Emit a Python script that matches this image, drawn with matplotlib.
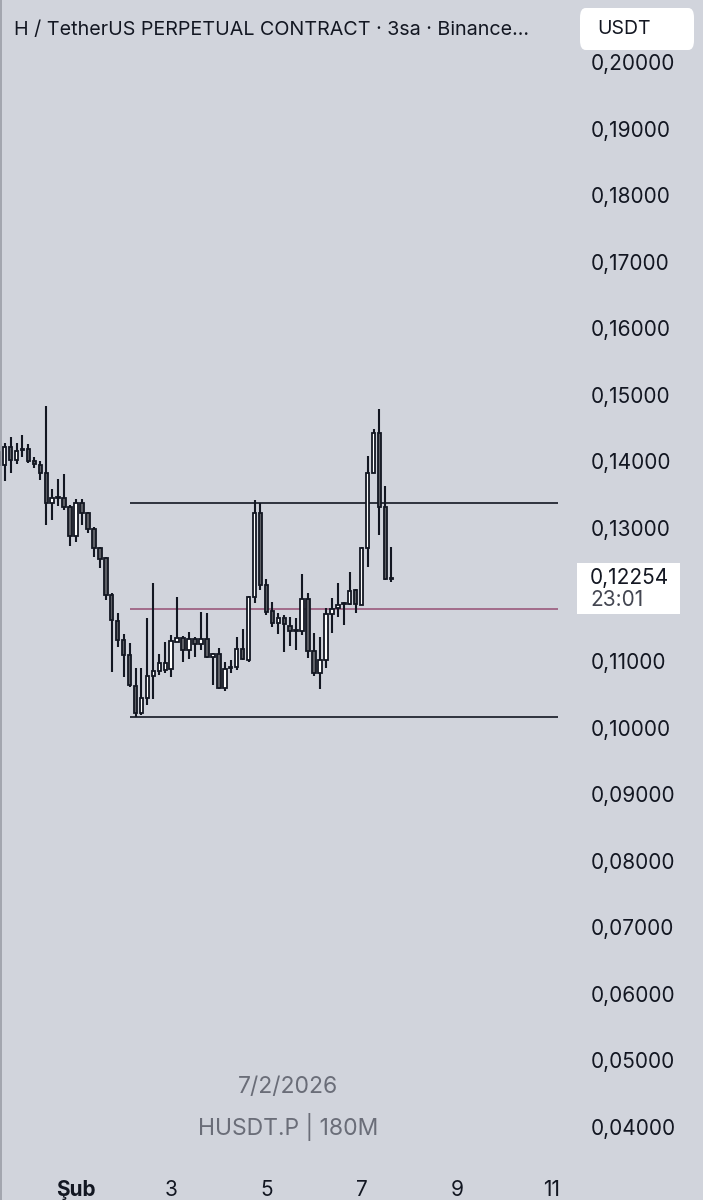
import matplotlib
matplotlib.use("Agg")
import matplotlib.pyplot as plt
import matplotlib.dates as mdates
from matplotlib.patches import Rectangle, FancyBboxPatch
from matplotlib.transforms import blended_transform_factory
from matplotlib.lines import Line2D
import numpy as np
import pandas as pd

# HUSDT.P, 3h candles
times = pd.date_range("2026-01-30 09:00", periods=67, freq="3h")
opens = [0.14141, 0.13946, 0.14216, 0.14021, 0.14186, 0.14186, 0.14006, 0.13946, 0.13825, 0.13375,
         0.13450, 0.13450, 0.13315, 0.12879, 0.13375, 0.13225, 0.12984, 0.12699, 0.12548, 0.11993,
         0.11602, 0.11317, 0.11091, 0.10625, 0.10220, 0.10445, 0.10776, 0.10851, 0.10866, 0.10881,
         0.11287, 0.11347, 0.11166, 0.11332, 0.11256, 0.11332, 0.11061, 0.11106, 0.10595, 0.10911,
         0.10911, 0.11181, 0.11016, 0.11963, 0.13225, 0.12143, 0.11753, 0.11572, 0.11647, 0.11527,
         0.11467, 0.11452, 0.11933, 0.11151, 0.10821, 0.11016, 0.11708, 0.11798, 0.11858, 0.11858,
         0.12068, 0.11843, 0.12699, 0.13825, 0.14426, 0.13315, 0.12233]
highs = [0.14276, 0.14276, 0.14366, 0.14276, 0.14396, 0.14261, 0.14066, 0.14006, 0.14832, 0.13585,
         0.13735, 0.13810, 0.13345, 0.13435, 0.13435, 0.13240, 0.13014, 0.12714, 0.12564, 0.12023,
         0.11723, 0.11407, 0.11271, 0.10896, 0.10896, 0.11647, 0.12173, 0.11106, 0.11287, 0.11392,
         0.11963, 0.11377, 0.11437, 0.11362, 0.11738, 0.11723, 0.11121, 0.11196, 0.10986, 0.11016,
         0.11362, 0.11482, 0.11978, 0.13420, 0.13375, 0.12233, 0.11888, 0.11723, 0.11692, 0.11662,
         0.11647, 0.12308, 0.12023, 0.11422, 0.11362, 0.11798, 0.11948, 0.12173, 0.11888, 0.12338,
         0.12083, 0.12714, 0.14081, 0.14486, 0.14787, 0.13630, 0.12714]
lows = [0.13901, 0.13705, 0.13825, 0.13961, 0.14066, 0.13976, 0.13901, 0.13720, 0.13044, 0.13119,
        0.13330, 0.13270, 0.12729, 0.12789, 0.13044, 0.12924, 0.12564, 0.12398, 0.11918, 0.10836,
        0.11211, 0.10761, 0.10610, 0.10159, 0.10190, 0.10340, 0.10430, 0.10791, 0.10821, 0.10761,
        0.11287, 0.10986, 0.11031, 0.11061, 0.11166, 0.11046, 0.10640, 0.10580, 0.10550, 0.10821,
        0.10866, 0.11016, 0.10986, 0.11873, 0.12068, 0.11692, 0.11512, 0.11407, 0.11136, 0.11226,
        0.11166, 0.11392, 0.11046, 0.10776, 0.10580, 0.10896, 0.11422, 0.11662, 0.11542, 0.11843,
        0.11723, 0.11843, 0.12413, 0.13825, 0.12894, 0.12218, 0.12188]
closes = [0.13946, 0.14216, 0.14021, 0.14156, 0.14171, 0.14006, 0.13961, 0.13825, 0.13375, 0.13450,
          0.13465, 0.13315, 0.12879, 0.13375, 0.13225, 0.12984, 0.12699, 0.12533, 0.11993, 0.11617,
          0.11317, 0.11091, 0.10640, 0.10220, 0.10445, 0.10776, 0.10851, 0.10971, 0.10971, 0.11302,
          0.11347, 0.11166, 0.11332, 0.11256, 0.11332, 0.11061, 0.11106, 0.10595, 0.10881, 0.10896,
          0.11181, 0.11031, 0.11963, 0.13225, 0.12143, 0.11738, 0.11572, 0.11647, 0.11557, 0.11452,
          0.11452, 0.11933, 0.11151, 0.10821, 0.11016, 0.11708, 0.11783, 0.11843, 0.11873, 0.12053,
          0.11858, 0.12699, 0.13825, 0.14426, 0.13315, 0.12233, 0.12254]

# drawn horizontal levels
levels = [0.13374, 0.11782, 0.10159]
level_colors = ["#131722", "#9a5a7c", "#131722"]
level_from = "2026-02-02 03:00"
level_to = "2026-02-11 03:00"

price_ticks = [0.04, 0.05, 0.06, 0.07, 0.08, 0.09, 0.10, 0.11,
               0.13, 0.14, 0.15, 0.16, 0.17, 0.18, 0.19, 0.20]   # 0,12000 sits under the price tag
date_ticks = ["2026-02-01", "2026-02-03", "2026-02-05", "2026-02-07", "2026-02-09", "2026-02-11"]
date_labels = ["Şub", "3", "5", "7", "9", "11"]
countdown = "23:01"

bg = "#d1d4dc"
down_fill = "#5d5f66"
ink = "#131722"
plt.rcParams["font.family"] = ["Inter", "DejaVu Sans"]

fig = plt.figure(figsize=(7.03, 12), dpi=100, facecolor=bg)
ax = fig.add_axes([0, 1 - 1165 / 1200, 575 / 703, 1165 / 1200])
ax.set_facecolor(bg)

x = mdates.date2num(times.to_pydatetime())
o = np.array(opens)
h = np.array(highs)
l = np.array(lows)
c = np.array(closes)
up = c >= o

ax.vlines(x, l, h, color=ink, lw=1.5, zorder=2)
ax.bar(x, np.where(np.abs(c - o) < 1e-5, 1e-5, c - o), bottom=o, width=0.074,
       color=np.where(up, "white", down_fill), edgecolor=ink, linewidth=1.3, zorder=3)

x0 = mdates.date2num(pd.Timestamp(level_from).to_pydatetime())
x1 = mdates.date2num(pd.Timestamp(level_to).to_pydatetime())
for lv, col in zip(levels, level_colors):
    ax.hlines(lv, x0, x1, color=col, lw=1.2, zorder=1)

feb1 = mdates.date2num(pd.Timestamp("2026-02-01").to_pydatetime())
ax.set_xlim(feb1 - 1.597, feb1 + 10.483)
ax.set_ylim(0.034285, 0.209315)

ax.yaxis.tick_right()
ax.set_yticks(price_ticks)
ax.set_yticklabels([f"{v:.5f}".replace(".", ",") for v in price_ticks])
ax.set_xticks([mdates.date2num(pd.Timestamp(d).to_pydatetime()) for d in date_ticks])
ax.set_xticklabels(date_labels)
ax.tick_params(axis="y", length=0, pad=11, labelsize=15, labelcolor=ink)
ax.tick_params(axis="x", length=0, pad=11, labelsize=15, labelcolor=ink)
ax.get_xticklabels()[0].set_fontweight("bold")
for s in ax.spines.values():
    s.set_visible(False)

# header
fig.text(14 / 703, 1 - 30 / 1200, "H / TetherUS PERPETUAL CONTRACT · 3sa · Binance...",
         fontsize=14.2, color=ink, ha="left", va="center")
fig.add_artist(FancyBboxPatch((580 / 703, 1 - 50 / 1200), 114 / 703, 42 / 1200,
                              boxstyle="round,pad=0,rounding_size=0.008",
                              transform=fig.transFigure, facecolor="white", edgecolor="none", zorder=5))
fig.text(597 / 703, 1 - 29 / 1200, "USDT", fontsize=14, color=ink, ha="left", va="center", zorder=6)

# last price tag
tr = blended_transform_factory(ax.transAxes, ax.transData)
last = closes[-1]
ax.add_patch(Rectangle((577 / 575, last - 0.00547), 103 / 575, 0.00766, transform=tr,
                       facecolor="white", edgecolor="none", clip_on=False, zorder=10))
ax.text(590 / 575, last, f"{last:.5f}".replace(".", ","), transform=tr, fontsize=15,
        color=ink, ha="left", va="center", zorder=11, clip_on=False)
ax.text(590 / 575, last - 0.00337, countdown, transform=tr, fontsize=15,
        color="#434651", ha="left", va="center", zorder=11, clip_on=False)

# watermark
fig.text(288 / 703, 1 - 1087 / 1200, "7/2/2026", fontsize=16.5, color="#6a6d78",
         ha="center", va="center")
fig.text(288 / 703, 1 - 1127 / 1200, "HUSDT.P | 180M", fontsize=16.5, color="#6a6d78",
         ha="center", va="center")

fig.add_artist(Line2D([0.0008, 0.0008], [0, 1], transform=fig.transFigure, color="#9a9da6", lw=1.2))

fig.savefig("out.png", dpi=100, facecolor=bg)
